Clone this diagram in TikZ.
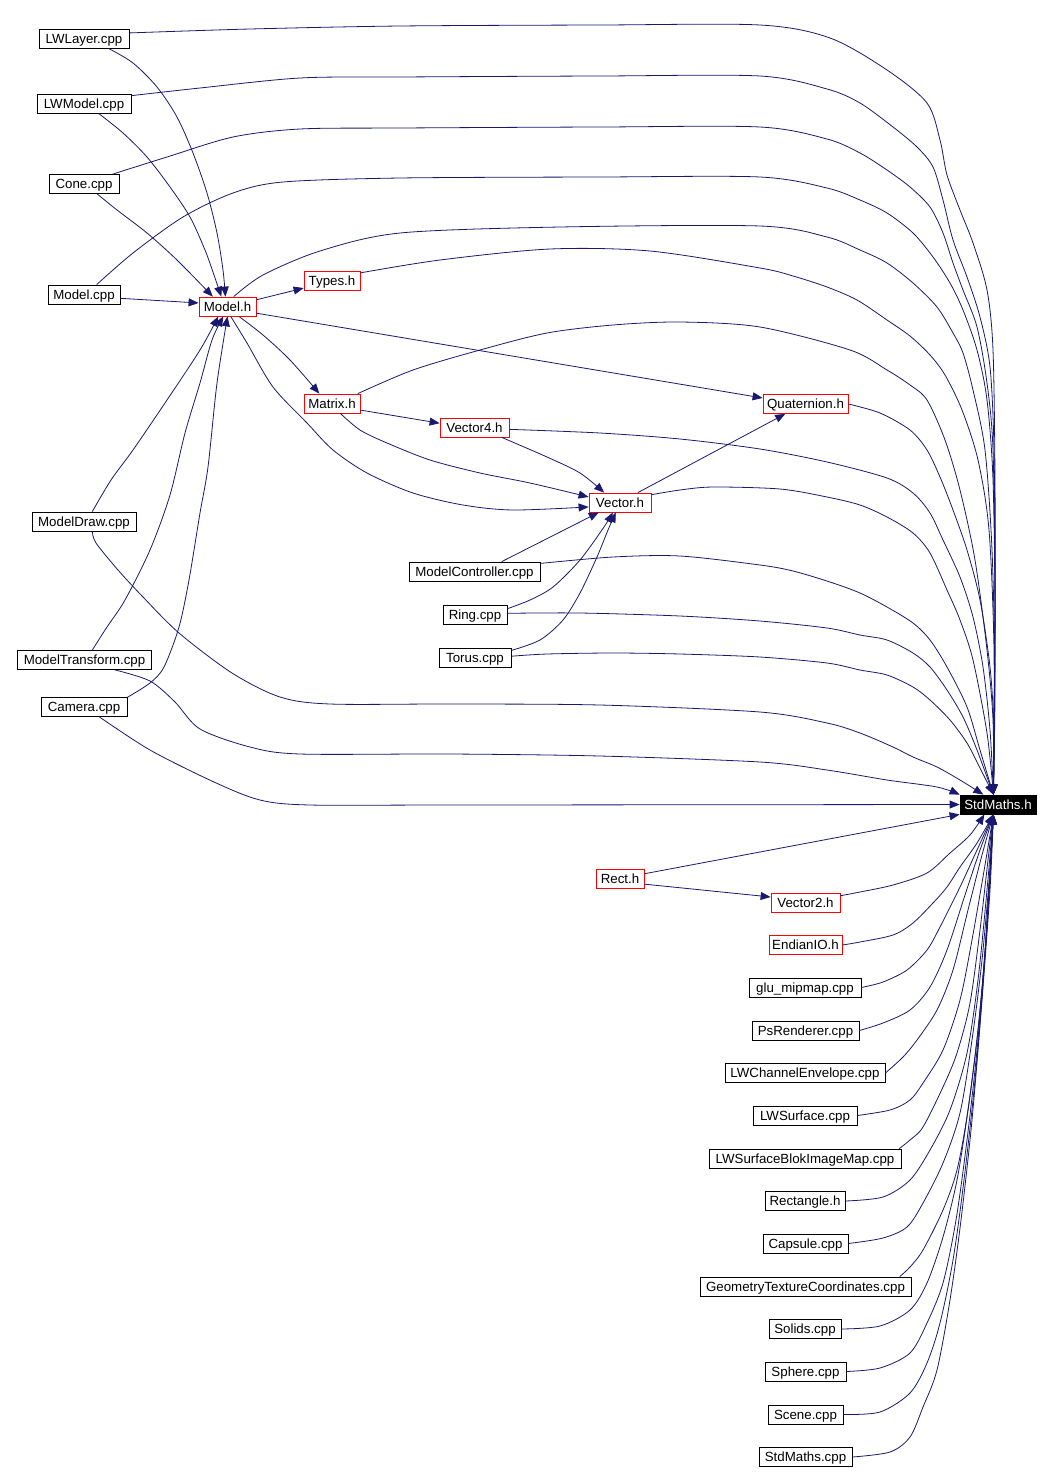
\documentclass[tikz,border=0pt]{standalone}
\usepackage{fontspec}
\setmainfont{Liberation Sans}
\usetikzlibrary{arrows.meta}
\definecolor{edgeblue}{HTML}{191970}
\newcommand\dxfont{\fontsize{13.3}{15}\selectfont}
\tikzset{
  box/.style={draw=black, fill=white, line width=0.8pt, minimum height=19pt, inner sep=0pt, text height=11pt, text depth=1.4pt, font=\dxfont},
  redbox/.style={box, draw=red},
  edge/.style={draw=edgeblue, line width=0.8pt, -{Triangle[length=10pt,width=8pt]}},
  sm/.style={smooth, tension=0.5}
}
\begin{document}
\begin{tikzpicture}[x=1pt, y=-1pt]
\useasboundingbox[fill=white] (0,0) rectangle (1052,1473);
% nodes
\node[box, minimum width=90pt] (LWLayer) at (84,38.5) {LWLayer.cpp};
\node[box, minimum width=94pt] (LWModel) at (84,104) {LWModel.cpp};
\node[box, minimum width=70pt] (Cone) at (84,184) {Cone.cpp};
\node[box, minimum width=72pt] (ModelCpp) at (84,294.5) {Model.cpp};
\node[redbox, minimum width=57pt] (ModelH) at (227.5,306.5) {Model.h};
\node[redbox, minimum width=56pt] (TypesH) at (332,281) {Types.h};
\node[redbox, minimum width=56pt] (MatrixH) at (332,403.5) {Matrix.h};
\node[redbox, minimum width=69pt] (Vector4H) at (474.5,427.5) {Vector4.h};
\node[redbox, minimum width=85pt] (QuatH) at (805.5,404) {Quaternion.h};
\node[redbox, minimum width=62pt] (VectorH) at (620,502.5) {Vector.h};
\node[box, minimum width=104pt] (ModelDraw) at (84,521.5) {ModelDraw.cpp};
\node[box, minimum width=131pt] (ModelCtrl) at (474.5,571.5) {ModelController.cpp};
\node[box, minimum width=64pt] (Ring) at (475,615) {Ring.cpp};
\node[box, minimum width=72pt] (Torus) at (475,657.5) {Torus.cpp};
\node[box, minimum width=134pt] (ModelTr) at (84.5,660) {ModelTransform.cpp};
\node[box, minimum width=86pt] (Camera) at (84,706.5) {Camera.cpp};
\node[box, fill=black, text=white, minimum width=76pt] (StdMathsH) at (998,804.5) {StdMaths.h};
\node[redbox, minimum width=48pt] (RectH) at (620,878.5) {Rect.h};
\node[redbox, minimum width=69pt] (Vector2H) at (805.5,902.5) {Vector2.h};
\node[redbox, minimum width=73pt] (EndianIO) at (805.5,945) {EndianIO.h};
\node[box, minimum width=112pt] (GluMip) at (805,987.5) {glu\_mipmap.cpp};
\node[box, minimum width=107pt] (PsRend) at (805.5,1030.5) {PsRenderer.cpp};
\node[box, minimum width=160pt] (LWChEnv) at (805,1073) {LWChannelEnvelope.cpp};
\node[box, minimum width=104pt] (LWSurf) at (805,1115.5) {LWSurface.cpp};
\node[box, minimum width=192pt] (LWSurfBlok) at (805,1158.5) {LWSurfaceBlokImageMap.cpp};
\node[box, minimum width=80pt] (RectangleH) at (805,1201) {Rectangle.h};
\node[box, minimum width=85pt] (Capsule) at (805.5,1243.5) {Capsule.cpp};
\node[box, minimum width=211pt] (GeoTex) at (805.5,1286.5) {GeometryTextureCoordinates.cpp};
\node[box, minimum width=72pt] (Solids) at (805,1329) {Solids.cpp};
\node[box, minimum width=81pt] (Sphere) at (805.5,1371.5) {Sphere.cpp};
\node[box, minimum width=75pt] (Scene) at (805.5,1414.5) {Scene.cpp};
\node[box, minimum width=93pt] (StdMathsCpp) at (805.5,1457) {StdMaths.cpp};
\coordinate (smTop) at (StdMathsH.115);
\coordinate (smBot) at (StdMathsH.-115);
% edges into StdMaths.h from above
\draw[edge] plot[sm] coordinates {(LWLayer.7) (250,29) (400,26) (600,25) (760,25) (830,38) (887,70) (927,103) (940,140) (947,175) (960,210) (973,243) (987,290) (993,350) (995,480) (995,650) (smTop)};
\draw[edge] plot[sm] coordinates {(LWModel.10) (200,88) (300,78) (400,77) (600,76) (760,76) (827,89) (860,103) (893,127) (917,147) (933,167) (943,200) (953,240) (967,277) (980,317) (990,367) (994,450) (995,600) (smTop)};
\draw[edge] plot[sm] coordinates {(Cone.19) (167,157) (233,137) (300,129) (400,128) (600,127) (760,127) (827,139) (860,153) (887,170) (910,187) (930,207) (943,233) (953,263) (963,290) (977,327) (987,383) (993,450) (995,600) (smTop)};
\draw[edge] plot[sm] coordinates {(ModelCpp.38) (133,253) (183,217) (233,193) (283,182) (400,178) (600,177) (760,177) (827,188) (860,200) (887,213) (913,233) (933,257) (950,283) (963,310) (977,350) (987,400) (993,480) (995,620) (smTop)};
\draw[edge] plot[sm] coordinates {(ModelH.58) (263,275) (320,251) (400,233) (560,227) (760,226) (827,237) (860,250) (887,263) (913,283) (937,307) (953,333) (963,353) (973,390) (985,450) (992,550) (995,680) (smTop)};
\draw[edge] plot[sm] coordinates {(TypesH.16) (440,260) (550,249) (650,251) (760,268) (793,276) (827,287) (857,300) (887,320) (910,336) (930,355) (945,375) (962,410) (978,460) (989,530) (994,650) (smTop)};
\draw[edge] plot[sm] coordinates {(MatrixH.21) (413,370) (480,350) (547,333) (613,325) (680,322) (760,327) (850,350) (887,370) (910,385) (927,400) (945,440) (960,490) (975,560) (987,650) (993,720) (smTop)};
\draw[edge] plot[sm] coordinates {(QuatH.east) (880,413) (910,430) (927,450) (940,477) (953,510) (967,550) (980,600) (990,667) (994,730) (smTop)};
\draw[edge] plot[sm] coordinates {(Vector4H.-3) (600,433) (680,439) (760,449) (827,462) (887,478) (913,493) (930,513) (943,540) (960,577) (973,617) (983,667) (990,730) (smTop)};
\draw[edge] plot[sm] coordinates {(VectorH.14) (680,490) (713,487) (780,489) (827,497) (860,505) (887,517) (913,533) (930,553) (947,590) (960,620) (973,660) (987,733) (smTop)};
\draw[edge] plot[sm] coordinates {(ModelCtrl.7) (613,557) (680,556) (760,565) (793,571) (830,582) (860,593) (887,607) (913,623) (930,640) (947,667) (967,707) (980,750) (smTop)};
\draw[edge] plot[sm] coordinates {(Ring.3) (580,613) (680,616) (760,621) (827,628) (860,635) (887,640) (913,653) (930,667) (947,690) (963,717) (977,750) (smTop)};
\draw[edge] plot[sm] coordinates {(Torus.2) (547,654) (613,653) (680,654) (760,657) (827,663) (860,670) (887,675) (913,687) (930,700) (950,720) (967,743) (980,768) (smTop)};
\draw[edge] plot[sm] coordinates {(ModelDraw.-50) (96,543) (118,570) (143,597) (179,633) (232,673) (280,697) (330,704) (450,704) (600,705) (760,712) (827,723) (860,733) (893,747) (913,757) (937,767) (960,780) (StdMathsH.146)};
\draw[edge] plot[sm] coordinates {(ModelTr.-18) (150,681) (175,702) (200,729) (250,747) (300,754) (450,754) (600,756) (760,762) (827,770) (887,780) (937,787) (StdMathsH.north west)};
\draw[edge] plot[sm] coordinates {(Camera.-34) (150,750) (214,782) (260,800) (310,805) (450,805) (StdMathsH.west)};
% edges into Model.h
\draw[edge] plot[sm] coordinates {(LWLayer.-22) (133,63) (157,87) (177,117) (193,153) (207,193) (217,233) (223,270) (ModelH.102)};
\draw[edge] plot[sm] coordinates {(LWModel.-33) (123,133) (147,157) (170,187) (190,217) (205,250) (214,275) (ModelH.122)};
\draw[edge] plot[sm] coordinates {(Cone.-37) (117,210) (147,233) (177,260) (ModelH.146)};
\draw[edge] (ModelCpp.-6) -- (ModelH.173);
\draw[edge] plot[sm] coordinates {(ModelDraw.50) (111,480) (133,450) (167,400) (200,350) (ModelH.-133)};
\draw[edge] plot[sm] coordinates {(ModelTr.52) (107,627) (125,600) (150,550) (170,495) (185,433) (200,383) (212,340) (ModelH.-113)};
\draw[edge] plot[sm] coordinates {(Camera.12) (150,683) (164,667) (179,627) (189,580) (200,513) (208,467) (217,383) (ModelH.-90)};
% edges from Model.h and other headers
\draw[edge] (ModelH.13) -- (TypesH.-166);
\draw[edge] plot[sm] coordinates {(ModelH.-41) (263,335) (290,360) (MatrixH.142)};
\draw[edge] (ModelH.-13) -- (QuatH.172);
\draw[edge] plot[sm] coordinates {(ModelH.-72) (247,343) (273,387) (307,423) (333,450) (367,473) (413,493) (463,505) (513,510) (VectorH.-172)};
\draw[edge] (MatrixH.-13) -- (Vector4H.173);
\draw[edge] plot[sm] coordinates {(MatrixH.-50) (360,430) (387,443) (430,460) (480,473) (530,483) (VectorH.170)};
\draw[edge] plot[sm] coordinates {(Vector4H.-20) (547,457) (580,473) (VectorH.148)};
\draw[edge] (VectorH.29) -- (QuatH.-154);
\draw[edge] (ModelCtrl.20) -- (VectorH.-155);
\draw[edge] plot[sm] coordinates {(Ring.11) (530,600) (553,587) (580,560) (604,527) (VectorH.-126)};
\draw[edge] plot[sm] coordinates {(Torus.11) (540,640) (563,620) (580,593) (597,557) (608,530) (VectorH.-113)};
% lower part
\draw[edge] (RectH.11) -- (StdMathsH.south west);
\draw[edge] (RectH.-13) -- (Vector2H.171);
\draw[edge] plot[sm] coordinates {(Vector2H.11) (860,892) (893,885) (927,873) (950,853) (970,835) (StdMathsH.-144)};
\draw[edge] plot[sm] coordinates {(EndianIO.east) (860,942) (893,935) (913,923) (933,903) (947,887) (960,867) (977,843) (smBot)};
\draw[edge] plot[sm] coordinates {(GluMip.east) (883,982) (907,970) (927,950) (940,927) (960,887) (977,850) (smBot)};
\draw[edge] plot[sm] coordinates {(PsRend.east) (883,1023) (910,1010) (930,987) (947,950) (965,895) (980,850) (smBot)};
\draw[edge] plot[sm] coordinates {(LWChEnv.east) (903,1057) (917,1040) (937,1010) (953,970) (968,910) (982,855) (smBot)};
\draw[edge] plot[sm] coordinates {(LWSurf.east) (890,1110) (910,1100) (923,1083) (943,1050) (960,1000) (972,940) (985,865) (smBot)};
\draw[edge] plot[sm] coordinates {(LWSurfBlok.6) (910,1140) (923,1127) (943,1087) (957,1053) (970,1003) (980,930) (988,860) (smBot)};
\draw[edge] plot[sm] coordinates {(RectangleH.east) (883,1197) (910,1180) (930,1150) (950,1110) (967,1053) (978,980) (987,890) (smBot)};
\draw[edge] plot[sm] coordinates {(Capsule.east) (883,1238) (907,1227) (923,1203) (943,1163) (960,1113) (972,1040) (982,960) (990,870) (smBot)};
\draw[edge] plot[sm] coordinates {(GeoTex.6) (910,1267) (923,1250) (943,1210) (957,1170) (968,1110) (978,1030) (986,940) (991,860) (smBot)};
\draw[edge] plot[sm] coordinates {(Solids.east) (880,1326) (910,1310) (927,1283) (943,1237) (957,1180) (968,1110) (978,1030) (986,940) (smBot)};
\draw[edge] plot[sm] coordinates {(Sphere.east) (880,1368) (910,1353) (927,1323) (943,1283) (956,1220) (967,1140) (977,1050) (985,950) (smBot)};
\draw[edge] plot[sm] coordinates {(Scene.east) (880,1412) (910,1393) (927,1363) (940,1323) (953,1260) (964,1180) (975,1080) (984,970) (smBot)};
\draw[edge] plot[sm] coordinates {(StdMathsCpp.east) (890,1452) (910,1437) (923,1407) (937,1370) (950,1300) (961,1220) (972,1120) (982,1000) (990,890) (smBot)};
\end{tikzpicture}
\end{document}
